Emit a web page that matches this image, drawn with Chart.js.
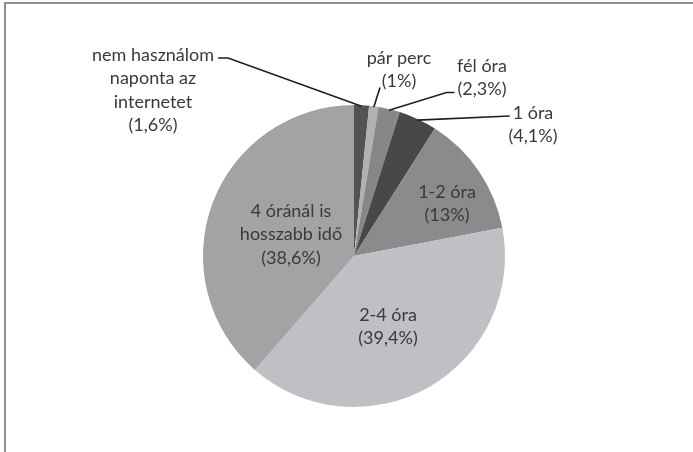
<!DOCTYPE html>
<html>
<head>
<meta charset="utf-8">
<script src="https://cdn.jsdelivr.net/npm/chart.js@4.4.1/dist/chart.umd.min.js"></script>
<style>
  html, body { margin: 0; padding: 0; background: #fff; }
  #wrap { position: relative; width: 693px; height: 452px; }
  #frame { position: absolute; left: 4px; top: 2px; right: 0; bottom: 0;
           border-top: 2px solid #8e8e8e; border-left: 2px solid #8e8e8e; }
  canvas { position: absolute; left: 0; top: 0; }
</style>
</head>
<body>
<div id="wrap">
  <div id="frame"></div>
  <canvas id="pie" width="693" height="452"></canvas>
</div>
<script>
// napi internethasználat
var labels = [
  ["nem használom", "naponta az", "internetet"],
  ["pár perc"],
  ["fél óra"],
  ["1 óra"],
  ["1-2 óra"],
  ["2-4 óra"],
  ["4 óránál is", "hosszabb idő"]
];
var values = [1.6, 1, 2.3, 4.1, 13, 39.4, 38.6];
var valueText = ["1,6%", "1%", "2,3%", "4,1%", "13%", "39,4%", "38,6%"];
var colors = ["#535356", "#b1b1b4", "#87878a", "#48484b", "#8b8b8e", "#c0c0c4", "#a3a3a6"];

// where each label block goes (center x, first line y), and if it has a leader line
var labelPos = [
  {x: 153, y: 55, leader: true},
  {x: 399, y: 58, leader: true},
  {x: 482, y: 66, leader: true},
  {x: 533, y: 113, leader: true},
  {x: 447, y: 192, leader: false},
  {x: 388, y: 315, leader: false},
  {x: 291, y: 211, leader: false}
];
var lineH = 23.5;

function labelLines(i){
  var lines = labels[i].slice();
  lines.push("(" + valueText[i] + ")");
  return lines;
}

var labelPlugin = {
  id: 'pieLabels',
  afterDatasetsDraw: function(chart){
    var ctx = chart.ctx;
    var meta = chart.getDatasetMeta(0);
    ctx.save();
    ctx.font = '18px Lato, "DejaVu Sans Condensed", sans-serif';
    ctx.fillStyle = "#3a3a3a";
    ctx.textAlign = "center";
    ctx.textBaseline = "middle";
    ctx.strokeStyle = "#1e1e1e";
    ctx.lineWidth = 1.6;
    for(var i = 0; i < meta.data.length; i++){
      var arc = meta.data[i];
      var p = labelPos[i];
      var lines = labelLines(i);
      for(var j = 0; j < lines.length; j++){
        ctx.fillText(lines[j], p.x, p.y + j * lineH);
      }
      if(p.leader){
        var mid = (arc.startAngle + arc.endAngle) / 2;
        var ex = arc.x + Math.cos(mid) * (arc.outerRadius - 1);
        var ey = arc.y + Math.sin(mid) * (arc.outerRadius - 1);
        var w = ctx.measureText(lines[0]).width;
        var sx, sy;
        ctx.beginPath();
        if(i == 0){
          sx = p.x + w / 2 + 4; sy = p.y + 3;
          ctx.moveTo(sx, sy);
          ctx.lineTo(sx + 10, sy);
        }
        else if(i == 1){
          sx = p.x - 19; sy = p.y + lineH + 6;
          ctx.moveTo(sx, sy);
        }
        else if(i == 2){
          var w2 = ctx.measureText(lines[1]).width;
          sx = p.x - w2 / 2 - 3; sy = p.y + lineH + 3;
          ctx.moveTo(sx, sy);
          ctx.lineTo(sx - 8, sy);
        }
        else {
          sx = p.x - w / 2 - 3; sy = p.y + 3;
          ctx.moveTo(sx, sy);
        }
        ctx.lineTo(ex, ey);
        ctx.stroke();
      }
    }
    ctx.restore();
  }
};

var ctx = document.getElementById('pie').getContext('2d');
var myChart = new Chart(ctx, {
  type: 'pie',
  data: {
    labels: labels,
    datasets: [{
      data: values,
      backgroundColor: colors,
      borderWidth: 0
    }]
  },
  options: {
    responsive: false,
    animation: false,
    layout: { padding: { left: 203, right: 188, top: 105, bottom: 45 } },
    plugins: {
      legend: { display: false },
      tooltip: { enabled: false }
    }
  },
  plugins: [labelPlugin]
});
</script>
</body>
</html>
